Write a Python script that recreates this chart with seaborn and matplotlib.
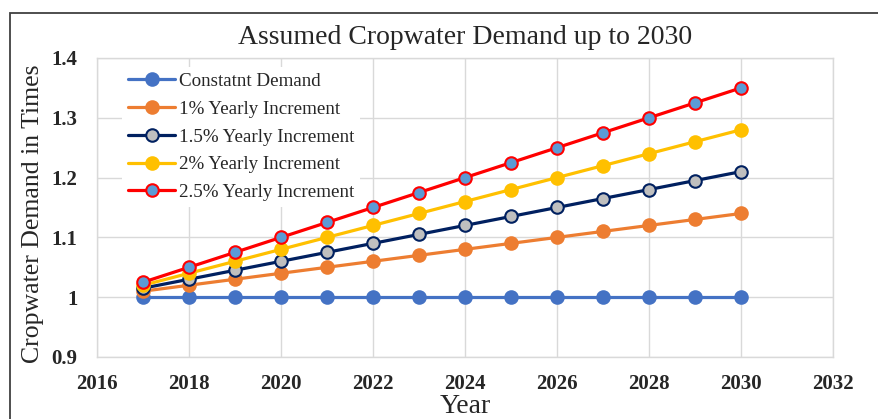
import numpy as np
import pandas as pd
import matplotlib
matplotlib.use('Agg')
import matplotlib.pyplot as plt
import seaborn as sns
from matplotlib.patches import Rectangle

years = [2017, 2018, 2019, 2020, 2021, 2022, 2023, 2024, 2025, 2026, 2027, 2028, 2029, 2030]
constant = [1.0, 1.0, 1.0, 1.0, 1.0, 1.0, 1.0, 1.0, 1.0, 1.0, 1.0, 1.0, 1.0, 1.0]
inc_1 = [1.01, 1.02, 1.03, 1.04, 1.05, 1.06, 1.07, 1.08, 1.09, 1.10, 1.11, 1.12, 1.13, 1.14]
inc_15 = [1.015, 1.03, 1.045, 1.06, 1.075, 1.09, 1.105, 1.12, 1.135, 1.15, 1.165, 1.18, 1.195, 1.21]
inc_2 = [1.02, 1.04, 1.06, 1.08, 1.10, 1.12, 1.14, 1.16, 1.18, 1.20, 1.22, 1.24, 1.26, 1.28]
inc_25 = [1.025, 1.05, 1.075, 1.10, 1.125, 1.15, 1.175, 1.20, 1.225, 1.25, 1.275, 1.30, 1.325, 1.35]

labels = ['Constatnt Demand', '1% Yearly Increment', '1.5% Yearly Increment',
          '2% Yearly Increment', '2.5% Yearly Increment']
x_ticks = [2016, 2018, 2020, 2022, 2024, 2026, 2028, 2030, 2032]
y_ticks = [0.9, 1.0, 1.1, 1.2, 1.3, 1.4]
y_ticklabels = ['0.9', '1', '1.1', '1.2', '1.3', '1.4']

# line colour, marker face, marker edge
styles = [('#4472C4', '#4472C4', '#4472C4'),
          ('#ED7D31', '#ED7D31', '#ED7D31'),
          ('#002060', '#BFBFBF', '#002060'),
          ('#FFC000', '#FFC000', '#FFC000'),
          ('#FF0000', '#5B9BD5', '#FF0000')]

sns.set_style('white')
plt.rcParams['font.family'] = ['Liberation Serif', 'DejaVu Serif']

fig = plt.figure(figsize=(8.79, 4.19), dpi=100)
ax = fig.add_axes([0.1104, 0.148, 0.8373, 0.7136])

for vals, lab, (lc, mf, me) in zip([constant, inc_1, inc_15, inc_2, inc_25], labels, styles):
    sns.lineplot(x=years, y=vals, ax=ax, color=lc, linewidth=2.3, marker='o',
                 markersize=9, markerfacecolor=mf, markeredgecolor=me,
                 markeredgewidth=1.5, label=lab)

ax.set_xlim(2016, 2032)
ax.set_ylim(0.9, 1.4)
ax.set_xticks(x_ticks)
ax.set_xticklabels([str(t) for t in x_ticks], fontsize=15, fontweight='bold')
ax.set_yticks(y_ticks)
ax.set_yticklabels(y_ticklabels, fontsize=15, fontweight='bold')
ax.tick_params(axis='x', length=0, pad=12)
ax.tick_params(axis='y', length=0, pad=14)
ax.grid(True, color='#D9D9D9', linewidth=1)
for s in ax.spines.values():
    s.set_color('#D9D9D9')
    s.set_linewidth(1)

ax.set_xlabel('Year', fontsize=20, labelpad=0)
ax.set_ylabel('Cropwater Demand in Times', fontsize=18.5)
ax.yaxis.set_label_coords(-0.072, 0.478)
ax.set_title('Assumed Cropwater Demand up to 2030', fontsize=20, pad=10)

leg = ax.legend(loc='upper left', bbox_to_anchor=(0.021, 1.002), fontsize=13.7,
                frameon=True, facecolor='white', edgecolor='none', framealpha=1,
                handlelength=2.5, handletextpad=0.2, labelspacing=0.55,
                borderpad=0.3)
leg.get_frame().set_linewidth(0)

fig.patches.append(Rectangle((10 / 879, -0.2), 1.2, 1.2 - 13 / 419,
                             transform=fig.transFigure, fill=False,
                             edgecolor='#404040', linewidth=1.3))

fig.savefig('out.png', dpi=100)
